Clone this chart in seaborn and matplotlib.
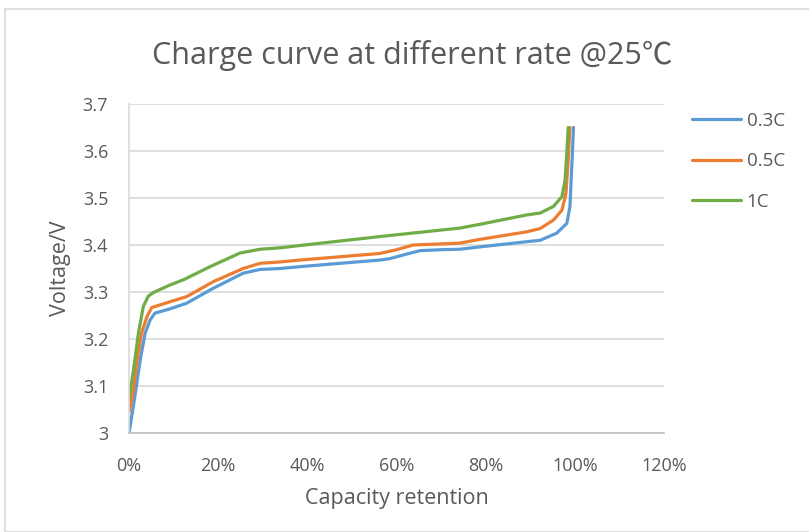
import pandas as pd
import numpy as np
import matplotlib.pyplot as plt
import matplotlib.ticker as mticker
from matplotlib.patches import Rectangle
import seaborn as sns

# capacity retention (%) and voltage (V)
cap_03 = [0, 1.3, 2.5, 3.6, 4.7, 5.8, 8.8, 12.9, 18.9, 25.6, 29.4, 33.9, 38.4, 56.3, 58.5,
          62.0, 65.3, 70.0, 74.2, 78.7, 89.2, 92.2, 95.9, 98.2, 98.9, 99.3, 99.7]
v_03 = [3.0, 3.077, 3.155, 3.212, 3.24, 3.255, 3.263, 3.276, 3.308, 3.34, 3.348, 3.35, 3.354,
        3.368, 3.371, 3.38, 3.388, 3.39, 3.391, 3.396, 3.407, 3.41, 3.425, 3.446, 3.482, 3.567,
        3.65]

cap_05 = [0, 1.0, 1.7, 2.8, 4.0, 5.1, 8.1, 11.8, 12.9, 18.9, 25.6, 29.4, 33.9, 38.4, 56.3,
          60.0, 63.7, 74.2, 78.7, 89.2, 92.2, 95.2, 97.1, 98.0, 98.5, 98.9]
v_05 = [3.045, 3.092, 3.148, 3.212, 3.247, 3.267, 3.276, 3.287, 3.29, 3.322, 3.35, 3.361,
        3.364, 3.368, 3.382, 3.39, 3.40, 3.404, 3.412, 3.428, 3.435, 3.453, 3.474, 3.51, 3.581,
        3.65]

cap_1 = [0, 1.0, 2.1, 3.2, 4.3, 5.5, 9.2, 12.2, 18.2, 24.9, 29.4, 33.9, 38.4, 56.3, 74.2,
         78.7, 89.2, 92.2, 95.2, 97.1, 97.8, 98.2, 98.5]
v_1 = [3.074, 3.134, 3.212, 3.269, 3.291, 3.299, 3.315, 3.326, 3.354, 3.383, 3.391, 3.394,
       3.399, 3.418, 3.436, 3.444, 3.464, 3.468, 3.482, 3.503, 3.538, 3.597, 3.65]

rates = ["0.3C", "0.5C", "1C"]
colors = ["#5B9BD5", "#ED7D31", "#70AD47"]


def set_style():
    sns.set_style("white")
    plt.rcParams['font.family'] = ['Open Sans', 'Noto Sans CJK SC', 'DejaVu Sans']
    plt.rcParams['text.color'] = '#595959'
    plt.rcParams['axes.labelcolor'] = '#595959'
    plt.rcParams['xtick.color'] = '#595959'
    plt.rcParams['ytick.color'] = '#595959'


def main():
    set_style()

    df = pd.concat([
        pd.DataFrame({"cap": cap_03, "volt": v_03, "rate": "0.3C"}),
        pd.DataFrame({"cap": cap_05, "volt": v_05, "rate": "0.5C"}),
        pd.DataFrame({"cap": cap_1, "volt": v_1, "rate": "1C"}),
    ])
    df["cap"] = df["cap"] / 100

    fig = plt.figure(figsize=(8.09, 5.32), dpi=100)
    ax = fig.add_axes([0.1595, 0.1861, 0.6613, 0.6184])

    sns.lineplot(data=df, x="cap", y="volt", hue="rate", hue_order=rates,
                 palette=dict(zip(rates, colors)), sort=False, estimator=None,
                 linewidth=2.3, ax=ax)
    for ln in ax.get_lines():
        ln.set_solid_joinstyle('round')
        ln.set_solid_capstyle('round')

    ax.set_xlim(0, 1.2)
    ax.set_ylim(3.0, 3.7)
    ax.set_xticks(np.arange(0, 1.21, 0.2))
    ax.set_yticks(np.arange(3.0, 3.701, 0.1))
    ax.xaxis.set_major_formatter(mticker.FuncFormatter(lambda v, p: f"{v*100:.0f}%"))
    ax.yaxis.set_major_formatter(mticker.FuncFormatter(lambda v, p: f"{v:g}"))
    ax.tick_params(axis='both', labelsize=13, length=0)
    ax.tick_params(axis='x', pad=17)
    ax.tick_params(axis='y', pad=15)

    ax.yaxis.grid(True, color='#d9d9d9', linewidth=1.2)
    ax.set_axisbelow(True)
    for s in ["top", "right"]:
        ax.spines[s].set_visible(False)
    ax.spines["left"].set_color('#d9d9d9')
    ax.spines["bottom"].set_color('#bfbfbf')
    ax.spines["left"].set_linewidth(1.2)
    ax.spines["bottom"].set_linewidth(1.2)

    ax.set_xlabel("Capacity retention", fontsize=15.5, va='center')
    ax.set_ylabel("Voltage/V", fontsize=15.5, va='center')
    ax.xaxis.set_label_coords(0.5, -0.198)
    ax.yaxis.set_label_coords(-0.129, 0.5)

    fig.text(0.509, 0.895, "Charge curve at different rate @25℃", ha='center', va='center',
             fontsize=22, color='#595959')

    ax.legend(loc='upper left', bbox_to_anchor=(0.835, 0.822), bbox_transform=fig.transFigure,
              frameon=False, fontsize=13.5, handlelength=2.6, labelspacing=1.2,
              handletextpad=0.3)

    fig.add_artist(Rectangle((5 / 809, 0), 1, 1 - 9 / 532, transform=fig.transFigure,
                             fill=False, edgecolor='#d9d9d9', linewidth=1.2))

    plt.savefig("out.png", dpi=100)
    plt.close()


if __name__ == "__main__":
    main()
